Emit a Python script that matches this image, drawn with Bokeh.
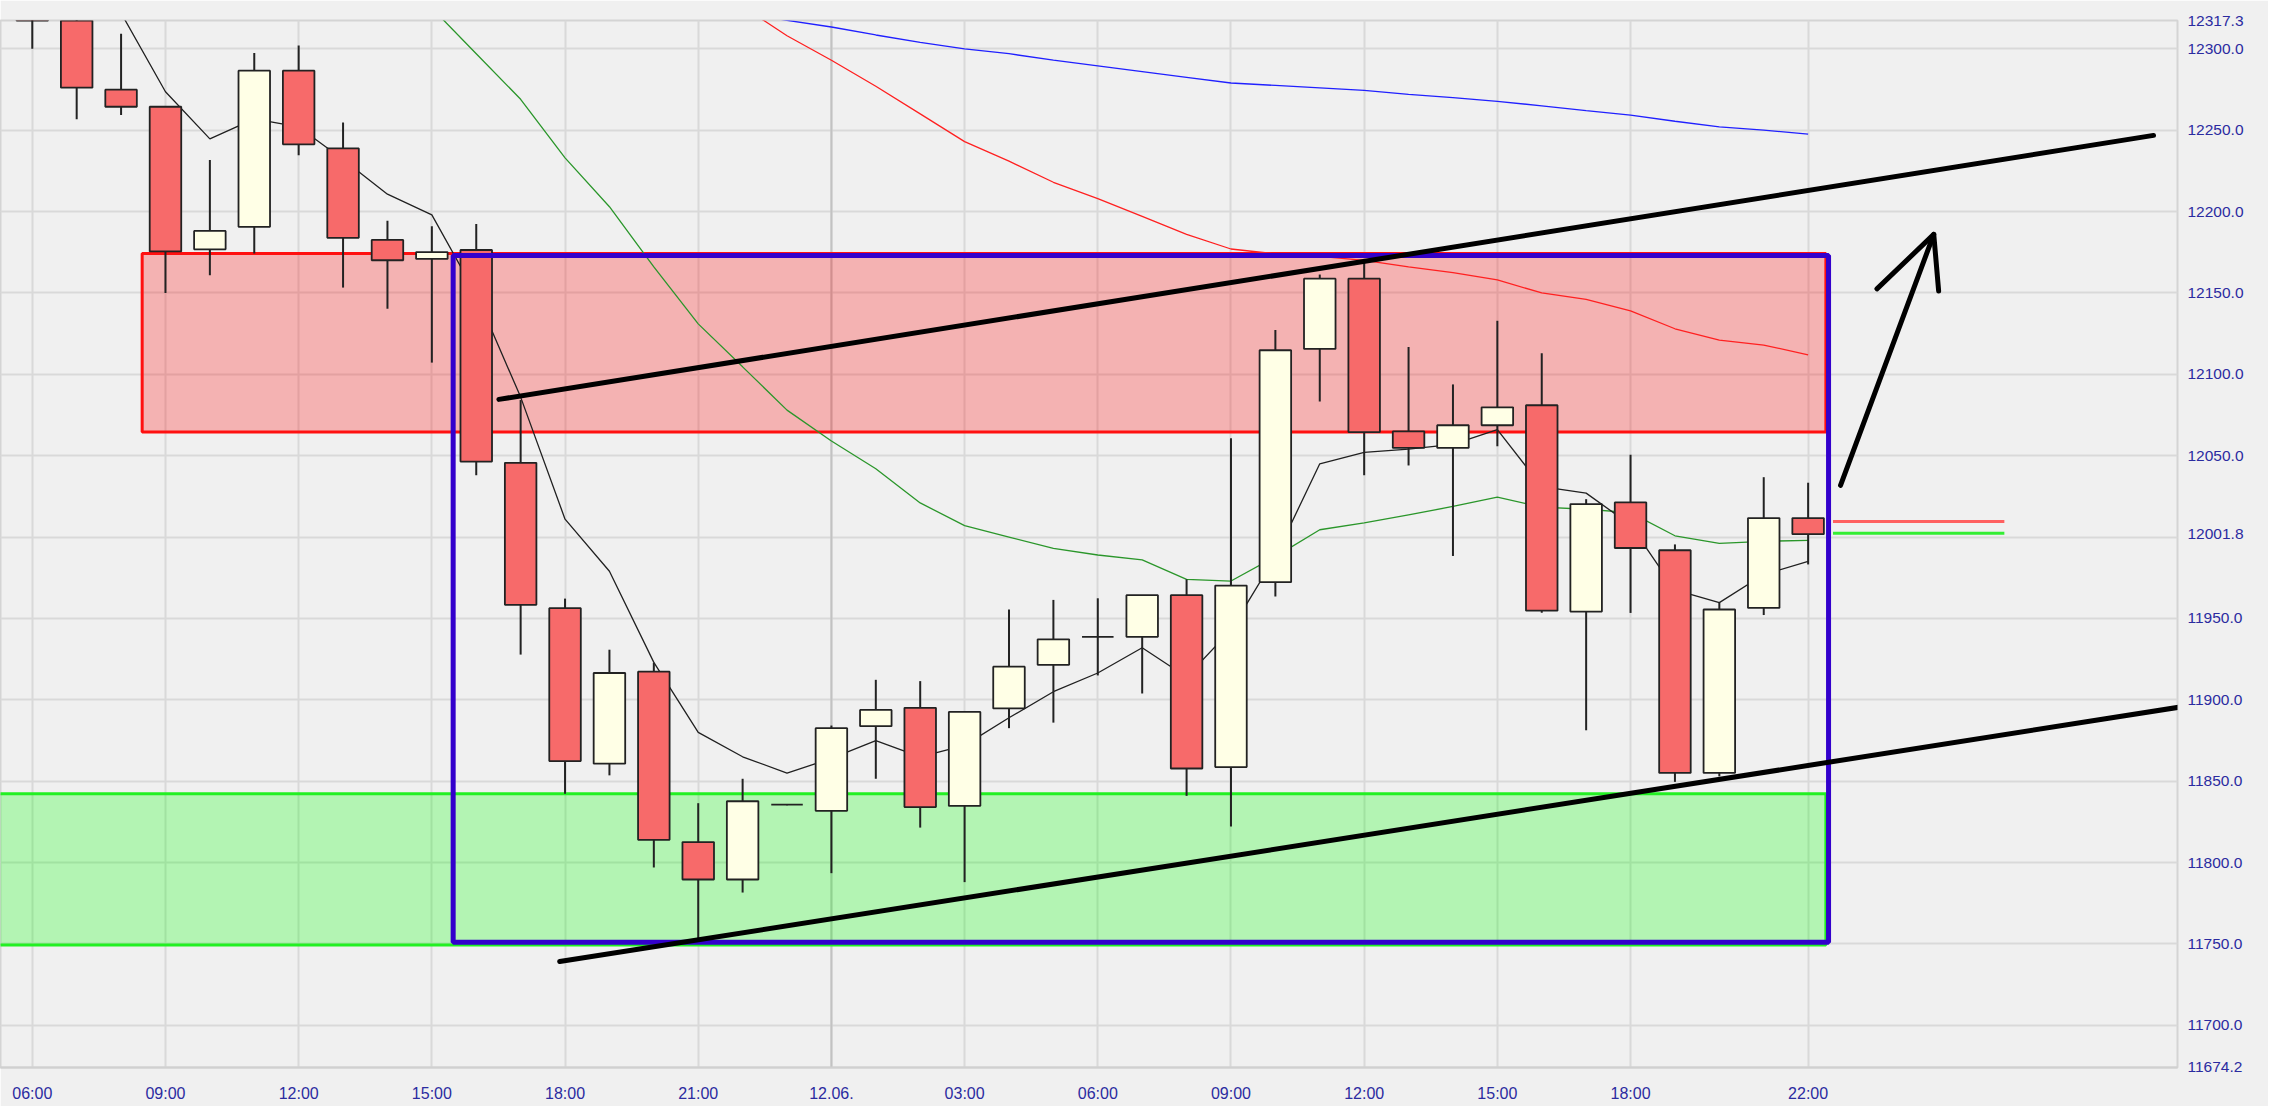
import numpy as np
from bokeh.plotting import figure
from bokeh.models import Range1d, FixedTicker, PrintfTickFormatter, Span, ColumnDataSource
from bokeh.embed import file_html
from bokeh.resources import INLINE

nan = float("nan")

# ---- hourly candles (index 0 = 11.06. 06:00) ----
hours = list(range(41))
opens = [12335, 12340, 12274.9, 12264.4, 12176.8, 12190.6, 12286.6, 12238.8, 12182.6, 12170.9,
         12176.4, 12045.6, 11956.3, 11860.8, 11917.3, 11812.6, 11789.6, 11835.6, 11831.8, 11883.8,
         11895.1, 11834.8, 11894.7, 11921.5, 11938.7, 11938.7, 11964.3, 11858.7, 11972.3, 12115.6,
         12158.8, 12064.9, 12054.8, 12068.7, 12081.0, 11954.2, 12021.3, 11991.9, 11855.1, 11956.5,
         12011.7]
highs = [12350, 12350, 12309.2, 12264.4, 12231.7, 12297.5, 12302.1, 12254.7, 12194.4, 12191.0,
         12192.3, 12084.2, 11962.2, 11930.8, 11922.8, 11836.5, 11851.5, 11836.0, 11884.2, 11912.3,
         11911.5, 11893.0, 11955.5, 11961.4, 11962.4, 11964.3, 11974.0, 12060.7, 12127.3, 12161.3,
         12170.0, 12116.8, 12093.8, 12132.9, 12113.0, 12023.3, 12050.6, 11995.5, 11959.8, 12036.8,
         12033.4]
lows = [12300, 12256.8, 12259.3, 12150.0, 12160.9, 12174.3, 12234.6, 12153.3, 12140.3, 12107.2,
        12038.0, 11927.8, 11842.3, 11853.6, 11797.0, 11753.1, 11781.6, 11835.2, 11793.5, 11851.5,
        11821.5, 11788.0, 11882.6, 11886.0, 11915.0, 11903.9, 11841.0, 11822.2, 11963.5, 12083.3,
        12038.0, 12044.0, 11988.4, 12055.8, 11953.5, 11881.3, 11953.4, 11849.6, 11853.0, 11952.1,
        11983.2]
closes = [12330, 12276.1, 12264.4, 12175.5, 12188.1, 12286.6, 12241.3, 12183.9, 12170.1, 12175.1,
          12046.4, 11958.4, 11862.4, 11916.5, 11814.0, 11789.6, 11837.7, 11835.6, 11882.6, 11893.8,
          11834.1, 11892.6, 11920.4, 11937.2, 11938.7, 11964.3, 11857.8, 11970.2, 12114.8, 12158.8,
          12064.5, 12054.8, 12068.7, 12079.7, 11954.8, 12020.3, 11993.3, 11855.1, 11955.5, 12011.7,
          12001.8]

# ---- moving averages ----
ma_fast = [nan, nan, 12322, 12273.6, 12244.7, 12257, 12252, 12232, 12210.7, 12198,
           12149, 12086, 12011, 11979, 11923, 11880, 11865, 11855, 11864, 11875,
           11865, 11872, 11889, 11905, 11916.5, 11932, 11914, 11943, 11988, 12045,
           12052, 12054, 12057, 12066, 12031, 12027, 12007.5, 11967.6, 11959.7, 11977,
           11985]
ma_green = [nan] * 9 + [12325, 12297, 12269, 12233, 12203, 12166, 12131, 12104.6, 12078, 12059, 12042,
                        12021, 12007, 12000, 11993, 11989, 11986, 11974, 11973, 11988, 12004.5,
                        12008.7, 12013.7, 12018.8, 12024.6, 12018.4, 12017.1, 12015, 12000.8, 11996.1,
                        11997.4, 11998]
ma_red = [nan] * 16 + [12326, 12308, 12293, 12277, 12260, 12243, 12231, 12218, 12208, 12197,
                       12186, 12177, 12174, 12172.5, 12170, 12166, 12162.5, 12158, 12150, 12146,
                       12139, 12128, 12121, 12118, 12112]
ma_blue = [nan] * 16 + [12322, 12317.5, 12313.4, 12308.5, 12304, 12300, 12297, 12293, 12289.5, 12286,
                        12282.5, 12279, 12277.5, 12276, 12274.5, 12272, 12270, 12267.7, 12265, 12262,
                        12259.3, 12255.5, 12252, 12250, 12247.6]

# ---- drawn zones and lines (hour index, price) ----
red_zone = dict(left=[2.475], right=[40.4], bottom=[12064.5], top=[12174.3])
green_zone = dict(left=[-2.0], right=[40.4], bottom=[11749.3], top=[11842.3])
blue_box = dict(left=[9.48], right=[40.46], bottom=[11751.0], top=[12173.0])
upper_trend_x = [10.51, 47.78]
upper_trend_y = [12084.6, 12246.8]
lower_trend_x = [11.88, 49.06]
lower_trend_y = [11739.2, 11898.5]
arrow_shaft_x = [40.73, 42.83]
arrow_shaft_y = [12031.8, 12186.0]
arrow_head_x = [41.55, 42.83, 42.94]
arrow_head_y = [12152.5, 12186.0, 12151.2]
price_line_x = [40.56, 44.42]
red_price = 12009.6
green_price = 12002.4

# ---- axis ticks ----
x_ticks = [0, 3, 6, 9, 12, 15, 18, 21, 24, 27, 30, 33, 36, 40]
x_tick_labels = ["06:00", "09:00", "12:00", "15:00", "18:00", "21:00", "12.06.",
                 "03:00", "06:00", "09:00", "12:00", "15:00", "18:00", "22:00"]
y_ticks = list(range(11700, 12301, 50))
y_top_value = 12317.3
y_bottom_value = 11674.2
last_value = 12001.8

BG = "#f0f0f0"
AXIS_TXT = "#2b2ba0"
FONT = "Liberation Sans"

X0, X1 = -0.716, 48.32
Y0, Y1 = 11674.1, 12317.4

p = figure(frame_width=2177, frame_height=1047, output_backend="svg", toolbar_location=None,
           x_range=Range1d(X0, X1), y_range=Range1d(Y0, Y1),
           y_axis_location="right", min_border_left=0, min_border_top=20,
           min_border_right=91, min_border_bottom=39)
p.background_fill_color = BG
p.border_fill_color = BG
p.outline_line_color = "#d4d4d4"
p.outline_line_width = 2

# axes: the price axis also carries the top / last / bottom price marks
p.xaxis.ticker = FixedTicker(ticks=x_ticks)
p.xaxis.major_label_overrides = dict(zip(x_ticks, x_tick_labels))
axis_y_ticks = [y_bottom_value] + [t for t in y_ticks if t != 12000] + [last_value, y_top_value]
p.yaxis.ticker = FixedTicker(ticks=sorted(axis_y_ticks))
p.yaxis.formatter = PrintfTickFormatter(format="%.1f")
for ax in (p.xaxis[0], p.yaxis[0]):
    ax.major_tick_out = 0
    ax.major_tick_in = 0
    ax.minor_tick_out = 0
    ax.minor_tick_in = 0
    ax.major_label_text_color = AXIS_TXT
    ax.major_label_text_font = FONT
p.xaxis.major_label_text_font_size = "16px"
p.xaxis.major_label_standoff = 17
p.xaxis.axis_line_color = "#d0d0d0"
p.xaxis.axis_line_width = 2
p.yaxis.major_label_text_font_size = "15.5px"
p.yaxis.major_label_standoff = 10
p.yaxis.axis_line_color = None
p.xgrid.grid_line_color = "#d9d9d9"
p.xgrid.grid_line_width = 2
p.ygrid.ticker = FixedTicker(ticks=y_ticks)
p.ygrid.grid_line_color = "#d9d9d9"
p.ygrid.grid_line_width = 2
p.add_layout(Span(location=x_ticks[6], dimension="height", line_color="#c2c2c2", line_width=2, level="underlay"))

# zones
p.quad(source=ColumnDataSource(red_zone), left="left", right="right", bottom="bottom", top="top",
       fill_color="#ff0000", fill_alpha=0.26, line_color="#ff1010", line_width=3)
p.quad(source=ColumnDataSource(green_zone), left="left", right="right", bottom="bottom", top="top",
       fill_color="#00ff00", fill_alpha=0.255, line_color="#22f022", line_width=3)

# moving averages
p.line(hours, ma_blue, line_color="#2020ff", line_width=1.3)
p.line(hours, ma_red, line_color="#ff2020", line_width=1.3)
p.line(hours, ma_green, line_color="#2a962a", line_width=1.3)
p.line(hours, ma_fast, line_color="#202020", line_width=1.3)

# candles
up = [c >= o for o, c in zip(opens, closes)]
src = ColumnDataSource(dict(
    x=hours, high=highs, low=lows,
    top=[max(o, c) for o, c in zip(opens, closes)],
    bottom=[min(o, c) for o, c in zip(opens, closes)],
    color=["#ffffe6" if u else "#f76a6a" for u in up]))
p.segment(x0="x", y0="low", x1="x", y1="high", source=src, line_color="#222222", line_width=2)
p.vbar(x="x", width=0.71, top="top", bottom="bottom", source=src, fill_color="color",
       line_color="#222222", line_width=1.8)

# blue box, trend lines, arrow, price lines
p.quad(source=ColumnDataSource(blue_box), left="left", right="right", bottom="bottom", top="top",
       fill_alpha=0, line_color="#3300cc", line_width=5)
p.line(upper_trend_x, upper_trend_y, line_color="black", line_width=5, line_cap="round")
p.line(lower_trend_x, lower_trend_y, line_color="black", line_width=5, line_cap="round")
p.line(arrow_shaft_x, arrow_shaft_y, line_color="black", line_width=5, line_cap="round")
p.line(arrow_head_x, arrow_head_y, line_color="black", line_width=5, line_cap="round", line_join="round")
p.line(price_line_x, [red_price, red_price], line_color="#ff6060", line_width=3)
p.line(price_line_x, [green_price, green_price], line_color="#33ee33", line_width=3)

open("out.html", "w").write(file_html(p, INLINE))
